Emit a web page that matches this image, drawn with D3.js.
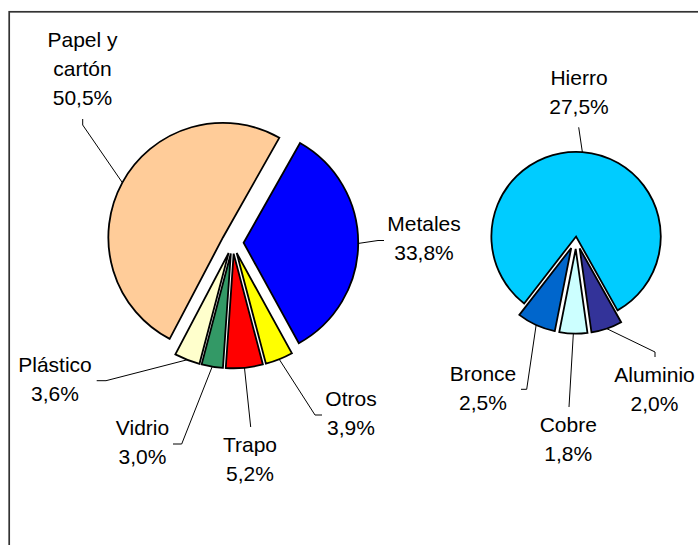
<!DOCTYPE html>
<html><head><meta charset="utf-8">
<script src="https://cdn.jsdelivr.net/npm/d3@7"></script>
<style>
body{margin:0;background:#fff}
svg{display:block}
text{font-family:"Liberation Sans",Arial,sans-serif;font-size:21px;fill:#000}
</style>
</head><body>
<svg id="chart" width="698" height="545"></svg>
<script>
// ---- data ----
const mainCategories = ["Metales", "Otros", "Trapo", "Vidrio", "Plástico", "Papel y cartón"];
const mainValues = [33.8, 3.9, 5.2, 3.0, 3.6, 50.5];
const mainColors = ["#0000FF", "#FFFF00", "#FF0000", "#339966", "#FFFFCC", "#FFCC99"];

const subCategories = ["Aluminio", "Cobre", "Bronce", "Hierro"];
const subValues = [2.0, 1.8, 2.5, 27.5];
const subColors = ["#333399", "#CCFFFF", "#0066CC", "#00CCFF"];

// ---- layout ----
const deg = Math.PI / 180;
const mainPie = {cx: 232.6, cy: 242.7, r: 114.6, start: 29.5, explode: [11, 11, 11, 11, 11, 11]};
const subPie = {cx: 576, cy: 237.5, r: 84.7, start: 150.7, explode: [11.5, 11.5, 11.5, 1]};

// label position (centre x, first baseline) and leader points from label side
const mainLabels = {
  "Metales": {x: 424, y: 231, lines: ["Metales"], leader: [[384, 240.5], [378, 240.5]]},
  "Otros": {x: 351, y: 406, lines: ["Otros"], leader: [[322, 415], [315, 415]]},
  "Trapo": {x: 250, y: 452, lines: ["Trapo"], leader: [[250.7, 427]]},
  "Vidrio": {x: 142.5, y: 435, lines: ["Vidrio"], leader: [[173, 444], [181.7, 444]]},
  "Plástico": {x: 55, y: 372, lines: ["Plástico"], leader: [[96.7, 380.7], [106, 380.7]]},
  "Papel y cartón": {x: 82.5, y: 47, lines: ["Papel y", "cartón"], leader: [[82.7, 119], [82.7, 125]]}
};
const subLabels = {
  "Aluminio": {x: 654.5, y: 382, lines: ["Aluminio"], leader: [[655, 357], [655, 352]]},
  "Cobre": {x: 568.3, y: 432, lines: ["Cobre"], leader: [[569, 407]]},
  "Bronce": {x: 483, y: 381, lines: ["Bronce"], leader: [[521, 389.3], [526.7, 389.3]]},
  "Hierro": {x: 579, y: 85, lines: ["Hierro"], leader: [[578.7, 127.3]]}
};
const lineH = 29;

const locale = d3.formatLocale({decimal: ",", thousands: ".", grouping: [3], currency: ["", "€"]});
const fmt = locale.format(".1f");

const svg = d3.select("#chart");

// frame
svg.append("rect")
  .attr("x", 9.2).attr("y", 11.8)
  .attr("width", 900).attr("height", 900)
  .attr("fill", "none").attr("stroke", "#333").attr("stroke-width", 1.7);

function drawPie(cats, vals, colors, cfg, labels) {
  const pie = d3.pie().sort(null).value(d => d.v)
    .startAngle(cfg.start * deg).endAngle(cfg.start * deg + 2 * Math.PI);
  const data = cats.map((c, i) => ({c, v: vals[i], color: colors[i], ex: cfg.explode[i]}));
  const arcs = pie(data);
  const arc = d3.arc().innerRadius(0).outerRadius(cfg.r);
  const g = svg.append("g").attr("transform", `translate(${cfg.cx},${cfg.cy})`);

  arcs.forEach(a => {
    const mid = (a.startAngle + a.endAngle) / 2;
    a.ox = a.data.ex * Math.sin(mid);
    a.oy = -a.data.ex * Math.cos(mid);
    a.ax = cfg.cx + a.ox + cfg.r * Math.sin(mid);
    a.ay = cfg.cy + a.oy - cfg.r * Math.cos(mid);
  });

  g.selectAll("path.slice").data(arcs).join("path")
    .attr("class", "slice")
    .attr("transform", a => `translate(${a.ox},${a.oy})`)
    .attr("d", arc)
    .attr("fill", a => a.data.color)
    .attr("stroke", "#000")
    .attr("stroke-width", 1.8)
    .attr("stroke-linejoin", "miter");

  const line = d3.line();
  arcs.forEach(a => {
    const L = labels[a.data.c];
    const pts = L.leader.concat([[a.ax, a.ay]]);
    svg.append("path").attr("d", line(pts))
      .attr("fill", "none").attr("stroke", "#000").attr("stroke-width", 1);
    const t = svg.append("text").attr("text-anchor", "middle");
    const lines = L.lines.concat([fmt(a.data.v) + "%"]);
    lines.forEach((s, i) => {
      t.append("tspan").attr("x", L.x).attr("y", L.y + i * lineH).text(s);
    });
  });
}

drawPie(mainCategories, mainValues, mainColors, mainPie, mainLabels);
drawPie(subCategories, subValues, subColors, subPie, subLabels);
</script>
</body></html>
